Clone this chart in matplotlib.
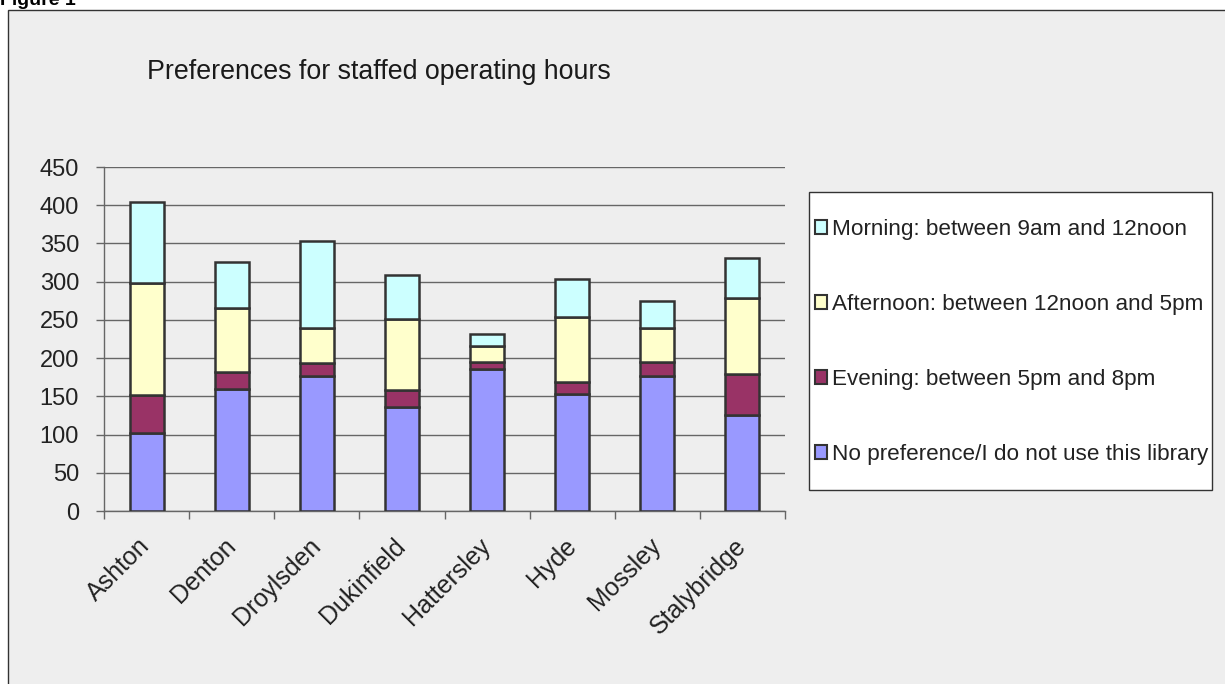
#!/usr/bin/python
# -*- encoding: UTF-8 -*-
'''Preferences for staffed operating hours - stacked bars per library'''

import numpy as np
import matplotlib
matplotlib.use('Agg')
import matplotlib.pyplot as plt
from matplotlib.patches import Rectangle, Patch

plt.rcParams['font.family'] = ['Liberation Sans', 'DejaVu Sans']

#==============================================================================
libraries = ['Ashton', 'Denton', 'Droylsden', 'Dukinfield',
             'Hattersley', 'Hyde', 'Mossley', 'Stalybridge']
no_pref   = [102, 160, 177, 136, 186, 153, 177, 125]
evening   = [50, 22, 17, 22, 9, 16, 18, 54]
afternoon = [146, 83, 45, 93, 21, 85, 44, 99]
morning   = [106, 61, 114, 58, 15, 50, 36, 53]

series_names = ['No preference/I do not use this library',
                'Evening: between 5pm and 8pm',
                'Afternoon: between 12noon and 5pm',
                'Morning: between 9am and 12noon']
series_colors = ['#9999FF', '#993366', '#FFFFCC', '#CCFFFF']

W, H = 1225, 684
EDGE = '#333333'
GRID = '#666666'

def fx(px): return px / float(W)
def fy(py): return 1.0 - py / float(H)

#==============================================================================
fig = plt.figure(figsize=(W/100.0, H/100.0), dpi=100, facecolor='white')

# outer chart frame
fig.patches.append(Rectangle((fx(8), -0.05), 1.2, fy(10) + 0.05,
                             transform=fig.transFigure, facecolor='#EEEEEE',
                             edgecolor=EDGE, linewidth=1.0, zorder=-5))
fig.text(fx(0), fy(5), 'Figure 1', fontsize=14, fontweight='bold',
         ha='left', va='baseline', color='black')
fig.text(fx(147), fy(72), 'Preferences for staffed operating hours',
         fontsize=19.3, ha='left', va='center', color='#1a1a1a')

ax = fig.add_axes([fx(104), fy(511), fx(785) - fx(104), fy(167) - fy(511)])
ax.set_facecolor('none')
ax.set_zorder(2)

x = np.arange(len(libraries))
bottom = np.zeros(len(libraries))
for vals, name, col in zip([no_pref, evening, afternoon, morning],
                           series_names, series_colors):
    ax.bar(x, vals, width=0.4, bottom=bottom, color=col, edgecolor=EDGE,
           linewidth=1.8, label=name, zorder=3)
    bottom += np.array(vals)
# END for

ax.set_xlim(-0.5, len(libraries) - 0.5)
ax.set_ylim(0, 450)
ax.set_yticks(np.arange(0, 451, 50))
ax.yaxis.grid(True, color=GRID, linewidth=1.0, zorder=0)
ax.set_axisbelow(True)

ax.set_xticks(x)
ax.set_xticklabels(libraries, rotation=45, ha='right', va='center',
                   rotation_mode='anchor', fontsize=18, color='#222222')
ax.set_xticks(np.arange(-0.5, len(libraries)), minor=True)
ax.tick_params(axis='x', which='major', length=0, pad=22.5)
ax.tick_params(axis='x', which='minor', length=6, width=1.0, color=GRID,
               direction='out')
ax.tick_params(axis='y', length=6, width=1.0, color=GRID, pad=12,
               labelsize=17, labelcolor='#222222')

for side in ['top', 'right']:
    ax.spines[side].set_visible(False)
for side in ['left', 'bottom']:
    ax.spines[side].set_color(GRID)
    ax.spines[side].set_linewidth(1.0)

# legend box drawn by hand, legend itself frameless
fig.patches.append(Rectangle((fx(809), fy(490)), fx(1212) - fx(809),
                             fy(192) - fy(490), transform=fig.transFigure,
                             facecolor='white', edgecolor=EDGE,
                             linewidth=1.0, zorder=1))
handles = [Patch(facecolor=c, edgecolor=EDGE, linewidth=1.5)
           for c in series_colors][::-1]
leg = fig.legend(handles, series_names[::-1], loc='upper left',
                 bbox_to_anchor=(fx(815), fy(219)), frameon=False,
                 fontsize=16.2, borderpad=0, borderaxespad=0,
                 handlelength=0.55, handleheight=0.55, handletextpad=0.2,
                 labelspacing=2.4, labelcolor='#222222')
leg.set_zorder(5)

fig.savefig('out.png', dpi=100, facecolor='white')
